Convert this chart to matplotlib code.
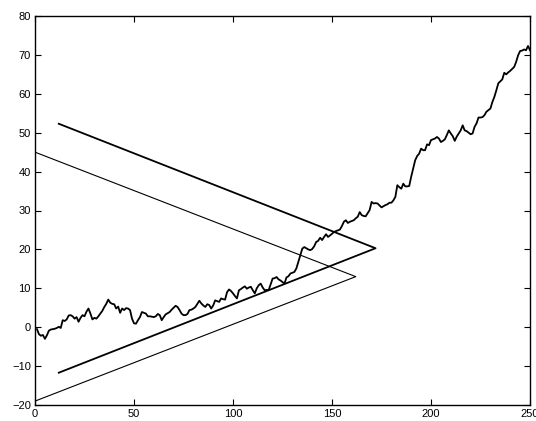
import matplotlib
matplotlib.use("Agg")
import matplotlib.pyplot as plt
import numpy as np

series = [
    -0.5, -1.8, -2.2, -2.0, -3.0, -2.1, -0.9, -0.6, -0.5, -0.4, -0.2, 0.1,
    -0.2, 1.8, 1.6, 2.0, 3.0, 3.1, 2.8, 2.2, 2.6, 1.4, 2.4, 3.1, 2.8,
    4.0, 4.8, 3.5, 2.0, 2.4, 2.2, 2.8, 3.5, 4.2, 5.2, 6.0, 7.1, 6.3, 6.0, 5.9,
    4.8, 5.3, 3.7, 4.8, 4.4, 4.9, 4.8, 4.4, 2.2, 1.0,
    0.9, 1.8, 2.6, 3.9, 3.7, 3.5, 2.8, 2.8, 2.7, 2.6,
    2.8, 3.4, 3.1, 1.8, 2.6, 3.3, 3.6, 3.9, 4.5, 5.0,
    5.5, 5.2, 4.4, 3.5, 3.1, 3.1, 3.4, 4.4, 4.5, 4.8,
    5.2, 6.0, 6.8, 6.1, 5.6, 5.2, 5.9, 5.7, 4.8, 5.6,
    6.9, 6.7, 6.5, 7.4, 7.2, 7.1, 9.0, 9.7, 9.3, 8.7,
    8.0, 7.4, 9.5, 9.8, 10.2, 10.5, 9.9, 10.2, 10.4, 9.5,
    8.7, 10.0, 10.8, 11.2, 10.2, 9.5, 9.6, 9.5, 11.0, 12.5,
    12.6, 12.9, 12.3, 12.0, 11.6, 11.2, 12.8, 13.1, 13.8, 14.0,
    14.2, 15.1, 16.8, 18.5, 20.2, 20.6, 20.3, 20.0, 19.8, 20.1,
    20.8, 21.9, 22.2, 23.0, 22.4, 23.2, 23.9, 23.2, 23.6, 24.0,
    24.5, 24.7, 24.9, 25.1, 26.0, 27.1, 27.5, 26.8, 27.1, 27.3,
    27.5, 28.0, 28.4, 29.6, 28.8, 28.6, 28.5, 29.3, 30.1, 32.2,
    31.8, 31.9, 31.8, 31.3, 30.8, 31.1, 31.4, 31.6, 32.0, 32.0,
    32.6, 33.5, 36.5, 36.0, 35.6, 36.9, 36.2, 36.2, 36.3, 38.7,
    40.8, 42.9, 44.0, 44.6, 45.9, 45.5, 45.5, 47.0, 46.8, 48.1,
    48.3, 48.5, 48.9, 48.5, 47.6, 47.9, 48.3, 49.4, 50.6, 49.8,
    49.1, 47.9, 49.0, 49.8, 50.6, 51.9, 50.6, 50.4, 50.0, 49.6,
    49.8, 51.5, 52.4, 53.9, 53.9, 54.0, 54.5, 55.4, 55.8, 56.2,
    57.9, 59.2, 60.9, 62.7, 63.2, 63.7, 65.4, 65.0, 65.5, 65.9,
    66.4, 66.9, 68.2, 69.9, 71.0, 71.1, 71.4, 71.2, 72.3, 71.2,
]
series_x = list(range(1, len(series) + 1))

# outer (thick) chevron
thick_x = [12, 172, 12]
thick_y = [52.3, 20.3, -11.7]
# inner (thin) chevron
thin_x = [0, 162, 0]
thin_y = [45.0, 13.0, -19.0]

xticks = [0, 50, 100, 150, 200, 250]
yticks = [-20, -10, 0, 10, 20, 30, 40, 50, 60, 70, 80]

plt.rcParams['font.family'] = ['Liberation Sans', 'DejaVu Sans']
fig = plt.figure(figsize=(5.36, 4.21), dpi=100)
ax = fig.add_axes([35/536, 16/421, 495/536, 389/421])

ax.plot(series_x, series, color='black', linewidth=1.3)
ax.plot(thick_x, thick_y, color='black', linewidth=1.3)
ax.plot(thin_x, thin_y, color='black', linewidth=0.8)

ax.set_xlim(0, 250)
ax.set_ylim(-20, 80)
ax.set_xticks(xticks)
ax.set_yticks(yticks)
ax.tick_params(direction='in', top=True, right=True, length=4, width=0.8,
               labelsize=8, pad=3)
for s in ax.spines.values():
    s.set_linewidth(1.0)

fig.savefig('out.png', dpi=100)
